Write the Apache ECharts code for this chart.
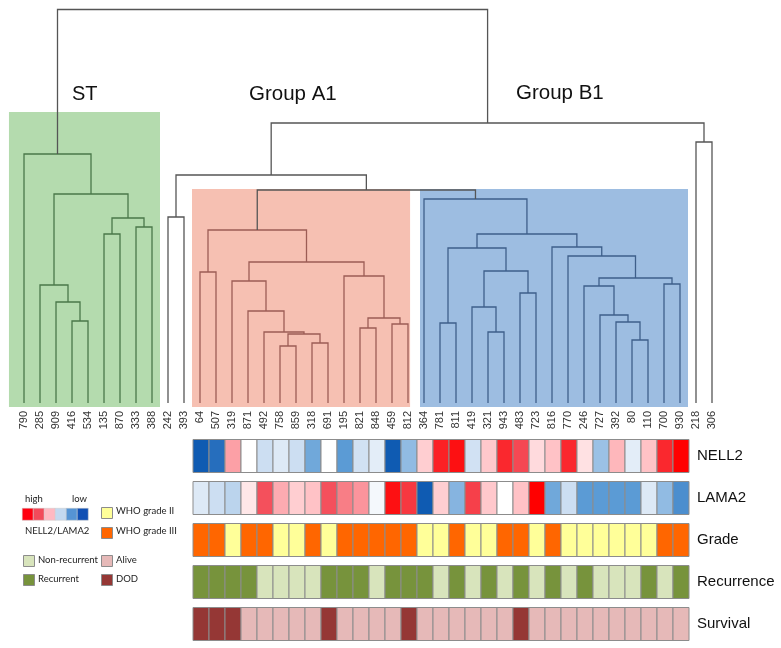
<!DOCTYPE html>
<html>
<head>
<meta charset="utf-8">
<script src="https://cdn.jsdelivr.net/npm/echarts@6/dist/echarts.min.js"></script>
<style>
  html, body { margin: 0; padding: 0; background: #fff; }
  #main { width: 781px; height: 648px; }
</style>
</head>
<body>
<div id="main"></div>
<script>
// leaves of each cluster, left to right
var stLeaves = ['790','285','909','416','534','135','870','333','388'];
var a1Leaves = ['64','507','319','871','492','758','859','318','691','195','821','848','459','812'];
var b1Leaves = ['364','781','811','419','321','943','483','723','816','770','246','727','392','80','110','700','930'];
var leaves = stLeaves.concat(['242','393'], a1Leaves, b1Leaves, ['218','306']);

// merges: [left, right, height] -- string = leaf, number = earlier merge
var merges = [
  ['416','534',82],   // 0
  ['909',0,101],      // 1
  ['285',1,118],      // 2
  ['135','870',169],  // 3
  ['333','388',176],  // 4
  [3,4,185],          // 5
  [2,5,209],          // 6
  ['790',6,249],      // 7
  ['64','507',131],   // 8
  ['758','859',57],   // 9
  ['318','691',60],   // 10
  [9,10,69],          // 11
  ['492',11,71],      // 12
  ['871',12,92],      // 13
  ['319',13,122],     // 14
  ['821','848',75],   // 15
  ['459','812',79],   // 16
  [15,16,85],         // 17
  ['195',17,127],     // 18
  [14,18,141],        // 19
  [8,19,173],         // 20
  ['781','811',80],   // 21
  ['321','943',71],   // 22
  ['419',22,96],      // 23
  ['483','723',110],  // 24
  [23,24,132],        // 25
  [21,25,155],        // 26
  ['80','110',63],    // 27
  ['392',27,81],      // 28
  ['727',28,88],      // 29
  ['246',29,117],     // 30
  ['700','930',119],  // 31
  [30,31,125],        // 32
  ['770',32,147],     // 33
  ['816',33,156],     // 34
  [26,34,169],        // 35
  ['364',35,204],     // 36
  [20,36,213],        // 37
  ['242','393',186],  // 38
  [38,37,228],        // 39
  ['218','306',261],  // 40
  [39,40,280],        // 41
  [7,41,393.5]        // 42
];

// annotation tracks (columns = A1 + B1 samples)
var heatCols = a1Leaves.concat(b1Leaves);
var rows = ['NELL2','LAMA2','Grade','Recurrence','Survival'];
var nell2 = [-3,-2.7,1.3,0,-0.9,-0.6,-0.9,-1.8,0,-2,-0.8,-0.5,-3,-1.5,0.8,2.6,2.8,
             -0.8,0.9,2.5,2.1,0.6,1,2.5,0.5,-1.4,1.1,-0.5,1,2.5,3];
var lama2 = [-0.6,-0.9,-1.1,0.4,2,1.2,0.8,1,2,1.6,1.4,-0.2,2.8,2.3,-3,0.8,-1.6,
             2.2,0.9,0,1,3,-1.8,-0.9,-2,-2,-2,-2,-0.6,-1.5,-2.2];
var grade = ['III','III','II','III','III','II','II','III','II','III','III','III','III','III','II','II','III',
             'II','II','III','III','II','III','II','II','II','II','II','II','III','III'];
var recurrence = ['R','R','R','R','N','N','N','N','R','R','R','N','R','R','R','N','R',
                  'N','R','N','R','N','R','N','R','N','N','N','R','N','R'];
var survival = ['D','D','D','A','A','A','A','A','D','A','A','A','A','D','A','A','A',
                'A','A','A','D','A','A','A','A','A','A','A','A','A','A'];

var catColors = {
  II: '#ffff99', III: '#ff6600',
  N: '#d8e4bc', R: '#77933c',
  A: '#e6b9b8', D: '#953735'
};

// ---- dendrogram geometry from merges
var nodes = [];
function getNode(ref) {
  if (typeof ref === 'string') {
    return { x: leaves.indexOf(ref), h: 0, set: [ref] };
  }
  return nodes[ref];
}
function groupColor(set) {
  function all(arr) { return set.every(function (s) { return arr.indexOf(s) >= 0; }); }
  if (all(stLeaves)) return '#4a784a';
  if (all(a1Leaves)) return '#9c5c55';
  if (all(b1Leaves)) return '#3e5f8a';
  return '#555555';
}
var linkData = [];
merges.forEach(function (m) {
  var a = getNode(m[0]), b = getNode(m[1]);
  var n = { x: (a.x + b.x) / 2, h: m[2], set: a.set.concat(b.set) };
  nodes.push(n);
  linkData.push({
    coords: [[a.x, a.h], [a.x, n.h], [b.x, n.h], [b.x, b.h]],
    lineStyle: { color: groupColor(n.set) }
  });
});

var exprData = [], catData = [];
heatCols.forEach(function (c, i) {
  exprData.push([i, 0, nell2[i]]);
  exprData.push([i, 1, lama2[i]]);
  catData.push({ value: [i, 2], itemStyle: { color: catColors[grade[i]] } });
  catData.push({ value: [i, 3], itemStyle: { color: catColors[recurrence[i]] } });
  catData.push({ value: [i, 4], itemStyle: { color: catColors[survival[i]] } });
});

function renderCell(params, api) {
  var p = api.coord([api.value(0), api.value(1)]);
  var w = api.size([1, 1]);
  return {
    type: 'rect',
    shape: { x: p[0] - w[0] / 2, y: p[1] - 16.5, width: w[0], height: 33 },
    style: { fill: api.visual('color'), stroke: '#8c8c8c', lineWidth: 1 }
  };
}

var legendFont = { fontFamily: 'Lato', fontSize: 9.5, fill: '#222' };
function legText(x, y, t) {
  return { type: 'text', left: x, top: y, style: Object.assign({ text: t }, legendFont) };
}
function legBox(x, y, color) {
  return { type: 'rect', left: x, top: y, shape: { width: 11, height: 11 },
           style: { fill: color, stroke: '#8c8c8c', lineWidth: 1 } };
}
var scaleColors = ['#ff0010', '#f24a5a', '#ffb9c2', '#c3d9f0', '#5594d4', '#1050b4'];
var graphics = [
  { type: 'text', left: 72, top: 84, style: { text: 'ST', fontFamily: 'Liberation Sans', fontSize: 20, fill: '#111' } },
  { type: 'text', left: 249, top: 84, style: { text: 'Group A1', fontFamily: 'Liberation Sans', fontSize: 20.5, fill: '#111' } },
  { type: 'text', left: 516, top: 83, style: { text: 'Group B1', fontFamily: 'Liberation Sans', fontSize: 20.5, fill: '#111' } },
  legText(25, 494, 'high'),
  legText(72, 494, 'low'),
  legText(25, 526, 'NELL2/LAMA2'),
  legBox(101, 507, catColors.II), legText(116, 506, 'WHO grade II'),
  legBox(101, 527, catColors.III), legText(116, 526, 'WHO grade III'),
  legBox(23, 555, catColors.N), legText(38, 555, 'Non-recurrent'),
  legBox(23, 574, catColors.R), legText(38, 574, 'Recurrent'),
  legBox(101, 555, catColors.A), legText(116, 555, 'Alive'),
  legBox(101, 574, catColors.D), legText(116, 574, 'DOD')
];
scaleColors.forEach(function (c, i) {
  graphics.push({ type: 'rect', left: 22 + i * 11, top: 508, shape: { width: 11, height: 12 },
                  style: { fill: c, stroke: '#c8c8c8', lineWidth: 0.5 } });
});

var myChart = echarts.init(document.getElementById('main'));
myChart.setOption({
  animation: false,
  backgroundColor: '#fff',
  grid: [
    // dendrogram: leaf i sits at 24 + 16 * i
    { left: 8, right: 53, top: 8, bottom: 240 },
    { left: 193, right: 92, top: 435, bottom: 3 },
    // leaf labels
    { left: 16, right: 61, top: 8, bottom: 240 }
  ],
  xAxis: [
    { type: 'value', gridIndex: 0, min: -1, max: 44, show: false },
    { type: 'category', gridIndex: 2, position: 'bottom', data: leaves,
      axisLine: { show: false }, axisTick: { show: false },
      axisLabel: { rotate: 90, interval: 0, margin: 3, fontSize: 11,
                   fontFamily: 'Liberation Sans', color: '#333' } },
    { type: 'category', gridIndex: 1, data: heatCols, show: false }
  ],
  yAxis: [
    { type: 'value', gridIndex: 0, min: -5, max: 395, show: false },
    { type: 'category', gridIndex: 1, data: rows, inverse: true, position: 'right',
      axisLine: { show: false }, axisTick: { show: false }, splitLine: { show: false },
      axisLabel: { margin: 8, fontSize: 15, fontFamily: 'Liberation Sans', color: '#111' } },
    { type: 'value', gridIndex: 2, show: false }
  ],
  visualMap: {
    type: 'continuous', show: false, seriesIndex: 2, dimension: 2, min: -3, max: 3,
    inRange: { color: ['#0f5bb2', '#5b9bd5', '#c6daf0', '#ffffff', '#ffc2c6', '#f4505c', '#ff0000'] }
  },
  series: [
    {
      type: 'line', xAxisIndex: 0, yAxisIndex: 0, data: [[-1, -5]],
      symbol: 'none', lineStyle: { opacity: 0 }, silent: true, z: 1,
      markArea: {
        silent: true,
        data: [
          [{ coord: [-0.94, 291], itemStyle: { color: '#b4dbae' } }, { coord: [8.5, -4] }],
          [{ coord: [10.5, 214], itemStyle: { color: '#f6c0b2' } }, { coord: [24.13, -4] }],
          [{ coord: [24.75, 214], itemStyle: { color: '#9dbde1' } }, { coord: [41.5, -4] }]
        ]
      }
    },
    {
      type: 'lines', coordinateSystem: 'cartesian2d', xAxisIndex: 0, yAxisIndex: 0,
      polyline: true, silent: true, z: 3,
      lineStyle: { width: 1.3, opacity: 1 },
      data: linkData
    },
    {
      type: 'custom', xAxisIndex: 2, yAxisIndex: 1, renderItem: renderCell,
      data: exprData, silent: true
    },
    {
      type: 'custom', xAxisIndex: 2, yAxisIndex: 1, renderItem: renderCell,
      data: catData, silent: true
    }
  ],
  graphic: graphics
});
</script>
</body>
</html>
